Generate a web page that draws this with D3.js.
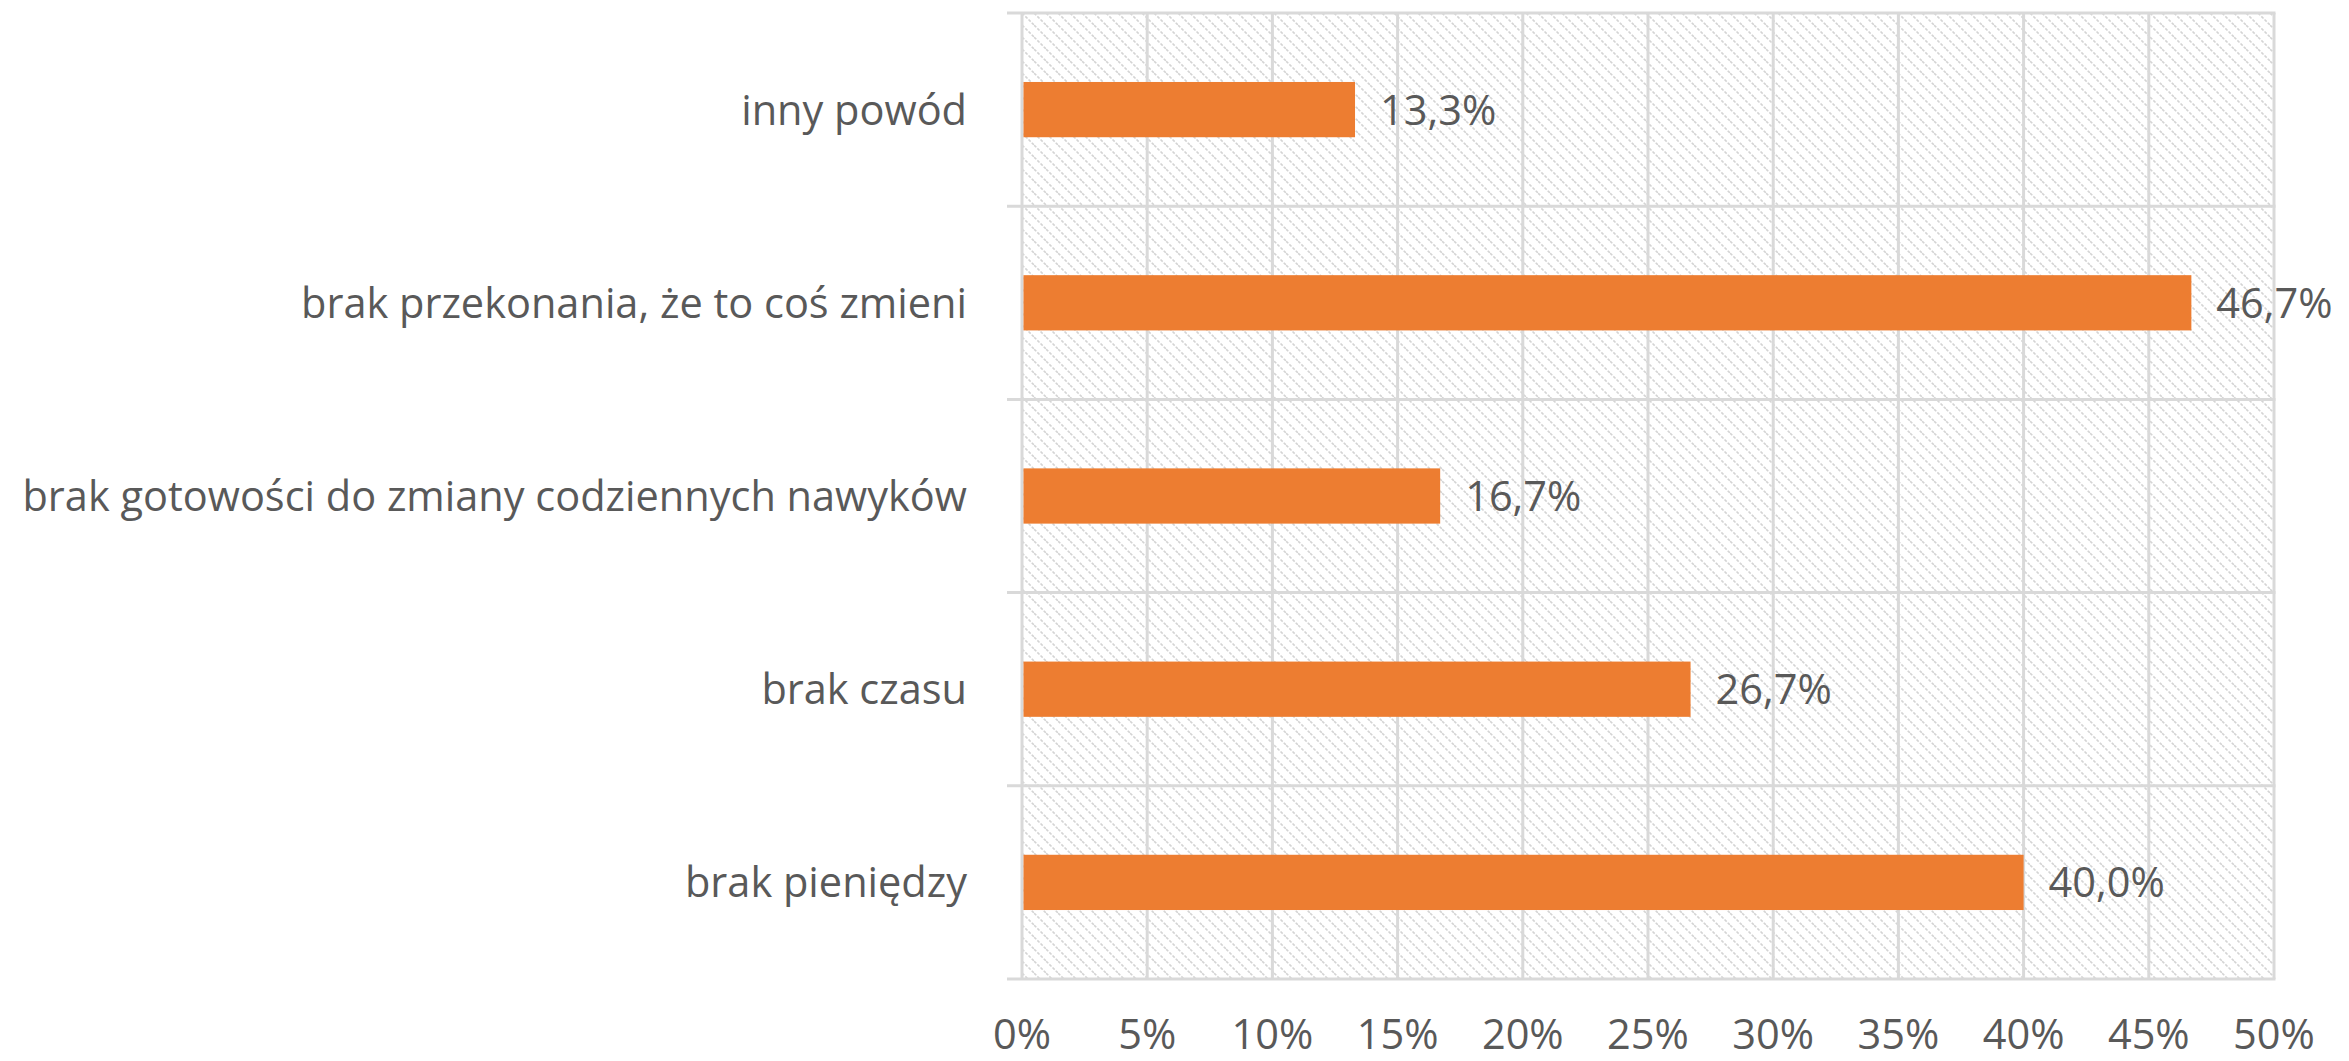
<!DOCTYPE html>
<html>
<head>
<meta charset="utf-8">
<script src="https://cdn.jsdelivr.net/npm/d3@7"></script>
<style>
  body { margin: 0; background: #fff; }
  text { font-family: "Open Sans", Lato, sans-serif; fill: #595959; }
</style>
</head>
<body>
<div id="visualization"></div>
<script>
// Data, top to bottom
const categories = ["inny powód", "brak przekonania, że to coś zmieni", "brak gotowości do zmiany codziennych nawyków", "brak czasu", "brak pieniędzy"];
const values = [13.3, 46.7, 16.7, 26.7, 40.0];
const xTicks = [0, 5, 10, 15, 20, 25, 30, 35, 40, 45, 50];

function drawBarPlot() {
    const margin = {top: 13, right: 75, bottom: 82, left: 1022},
        width = 2349 - margin.left - margin.right,
        height = 1061 - margin.top - margin.bottom;
    const fs = "41.5px";

    const root = d3.select("#visualization")
      .append("svg")
        .attr("width", width + margin.left + margin.right)
        .attr("height", height + margin.top + margin.bottom);

    // hatch fill for plot background
    const pat = root.append("defs").append("pattern")
        .attr("id", "hatch")
        .attr("patternUnits", "userSpaceOnUse")
        .attr("width", 12).attr("height", 12);
    pat.append("path")
        .attr("d", "M-3,-3 L15,15 M-3,9 L3,15 M9,-3 L15,3")
        .attr("stroke", "#d4d4d4")
        .attr("stroke-width", 1.6)
        .attr("stroke-dasharray", "3,1.5");

    const svg = root.append("g")
        .attr("transform", `translate(${margin.left}, ${margin.top})`);

    const x = d3.scaleLinear().domain([0, 50]).range([0, width]);
    const y = d3.scaleBand()
      .domain(categories)
      .range([0, height])
      .paddingInner(0.714)
      .paddingOuter(0.357);

    svg.append("rect")
        .attr("width", width).attr("height", height)
        .attr("fill", "url(#hatch)");

    // vertical gridlines
    svg.append("g").selectAll("line")
      .data(xTicks)
      .enter().append("line")
        .attr("x1", d => x(d)).attr("x2", d => x(d))
        .attr("y1", 0).attr("y2", height)
        .attr("stroke", "#d9d9d9").attr("stroke-width", 3);

    // category boundaries (with tick marks to the left)
    const gap = (y.step() - y.bandwidth()) / 2;
    const bounds = categories.map(c => y(c) - gap).concat([height]);
    svg.append("g").selectAll("line")
      .data(bounds)
      .enter().append("line")
        .attr("x1", -15).attr("x2", width + 1.5)
        .attr("y1", d => d).attr("y2", d => d)
        .attr("stroke", "#d9d9d9").attr("stroke-width", 3);

    // x axis labels
    svg.append("g")
        .attr("transform", `translate(0, ${height})`)
      .selectAll("text")
      .data(xTicks)
      .enter().append("text")
        .attr("x", d => x(d))
        .attr("y", 70)
        .attr("text-anchor", "middle")
        .style("font-size", fs)
        .text(d => d + "%");

    // category labels
    svg.append("g").selectAll("text")
      .data(categories)
      .enter().append("text")
        .attr("x", -55)
        .attr("y", d => y(d) + y.bandwidth() / 2)
        .attr("dy", "0.36em")
        .attr("text-anchor", "end")
        .style("font-size", fs)
        .text(d => d);

    // bars
    svg.selectAll("mybar")
      .data(values)
      .enter()
      .append("rect")
        .attr("x", x(0) + 1.5)
        .attr("y", (d, i) => y(categories[i]))
        .attr("width", d => x(d) - x(0) - 1.5)
        .attr("height", y.bandwidth())
        .attr("fill", "#ed7d31");

    // value labels
    svg.append("g").selectAll("text")
      .data(values)
      .enter().append("text")
        .attr("x", d => x(d) + 25)
        .attr("y", (d, i) => y(categories[i]) + y.bandwidth() / 2)
        .attr("dy", "0.36em")
        .style("font-size", fs)
        .text(d => d.toFixed(1).replace(".", ",") + "%");
}

drawBarPlot();
</script>
</body>
</html>
